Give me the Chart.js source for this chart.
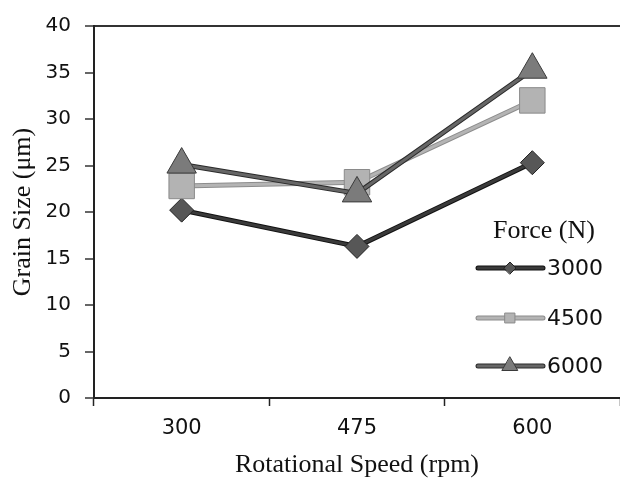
<!DOCTYPE html>
<html><head><meta charset="utf-8">
<script src="https://cdn.jsdelivr.net/npm/chart.js@4.4.1/dist/chart.umd.min.js"></script>
<style>html,body{margin:0;padding:0;background:#fff}#wrap{width:620px;height:485px}</style>
</head><body><div id="wrap"><canvas id="c" width="620" height="485"></canvas></div>
<script>
const categories = ['300', '475', '600'];
const force3000 = [20.2, 16.3, 25.3];
const force4500 = [22.8, 23.2, 32.0];
const force6000 = [25.1, 22.0, 35.3];
const seriesNames = ['3000', '4500', '6000'];
const yTicks = [0, 5, 10, 15, 20, 25, 30, 35, 40];
const legendTitle = 'Force (N)';
const xTitle = 'Rotational Speed (rpm)';
const yTitle = 'Grain Size (\u03bcm)';

const serif = "'Liberation Serif', 'DejaVu Serif', serif";
const sans = "'DejaVu Sans', sans-serif";

const outlinePlugin = {
  id: 'lineOutline',
  beforeDatasetDraw(chart, args) {
    const ds = chart.data.datasets[args.index];
    const pts = args.meta.data;
    if (!ds.outlineColor || !pts.length) return;
    const ctx = chart.ctx;
    ctx.save();
    ctx.strokeStyle = ds.outlineColor;
    ctx.lineWidth = ds.borderWidth + 2;
    ctx.lineJoin = 'round';
    ctx.beginPath();
    pts.forEach((p, i) => i ? ctx.lineTo(p.x, p.y) : ctx.moveTo(p.x, p.y));
    ctx.stroke();
    ctx.restore();
  }
};

const legendPlugin = {
  id: 'insideLegend',
  afterDatasetsDraw(chart) {
    const ctx = chart.ctx;
    ctx.save();
    ctx.fillStyle = '#111';
    ctx.font = '26px ' + serif;
    ctx.textAlign = 'center';
    ctx.textBaseline = 'middle';
    ctx.fillText(legendTitle, 544, 231);
    const ys = [268, 318, 366];
    const msize = [6, 7, 9];
    chart.data.datasets.forEach((ds, i) => {
      const y = ys[i];
      ctx.lineCap = 'round';
      ctx.strokeStyle = ds.outlineColor;
      ctx.lineWidth = ds.borderWidth + 2;
      ctx.beginPath(); ctx.moveTo(478, y); ctx.lineTo(543, y); ctx.stroke();
      ctx.strokeStyle = ds.borderColor;
      ctx.lineWidth = ds.borderWidth;
      ctx.beginPath(); ctx.moveTo(478, y); ctx.lineTo(543, y); ctx.stroke();
      ctx.fillStyle = ds.pointBackgroundColor;
      ctx.strokeStyle = ds.pointBorderColor;
      ctx.lineWidth = 1;
      Chart.helpers.drawPoint(ctx, {pointStyle: ds.pointStyle, radius: msize[i], rotation: 0, borderWidth: 1}, 510, y);
      ctx.fillStyle = '#111';
      ctx.font = '22px ' + sans;
      ctx.textAlign = 'left';
      ctx.fillText(ds.label, 547, y + 1);
    });
    ctx.restore();
  }
};

new Chart(document.getElementById('c'), {
  type: 'line',
  data: {
    labels: categories,
    datasets: [
      {label: seriesNames[0], data: force3000, borderColor: '#3a3a3a', outlineColor: '#111', borderWidth: 3,
       pointStyle: 'rectRot', pointRadius: 12, pointBackgroundColor: '#575757', pointBorderColor: '#222', pointBorderWidth: 1, order: 3},
      {label: seriesNames[1], data: force4500, borderColor: '#b4b4b4', outlineColor: '#8c8c8c', borderWidth: 3,
       pointStyle: 'rect', pointRadius: 18, pointBackgroundColor: '#b3b3b3', pointBorderColor: '#8a8a8a', pointBorderWidth: 1, order: 2},
      {label: seriesNames[2], data: force6000, borderColor: '#666', outlineColor: '#2a2a2a', borderWidth: 3,
       pointStyle: 'triangle', pointRadius: 17, pointBackgroundColor: '#7b7b7b', pointBorderColor: '#3a3a3a', pointBorderWidth: 1, order: 1}
    ]
  },
  options: {
    responsive: false,
    animation: false,
    devicePixelRatio: 1,
    layout: {autoPadding: false, padding: {top: 23, right: 0, left: 0, bottom: 0}},
    plugins: {legend: {display: false}, tooltip: {enabled: false}},
    scales: {
      x: {
        offset: true,
        grid: {offset: true, drawOnChartArea: false, color: '#222', tickLength: 8, tickWidth: 1.5},
        border: {color: '#222', width: 2},
        ticks: {color: '#111', font: {family: sans, size: 21}, padding: 10},
        title: {display: true, text: xTitle, color: '#111', font: {family: serif, size: 26}, padding: {top: 6}},
        afterFit(s) { s.height = 87; s.paddingRight = 0; s.paddingLeft = 0; }
      },
      y: {
        min: 0, max: 40,
        afterBuildTicks(s) { s.ticks = yTicks.map(v => ({value: v})); },
        grid: {color: c => (c.tick && c.tick.value === 40 ? '#333' : 'rgba(0,0,0,0)'), lineWidth: 2,
               tickColor: '#333', tickLength: 9, tickWidth: 1.5},
        border: {color: '#222', width: 2},
        ticks: {color: '#111', font: {family: sans, size: 20}, padding: 14},
        title: {display: true, text: yTitle, color: '#111', font: {family: serif, size: 26}, padding: {top: 8, bottom: 0}},
        afterFit(s) { s.width = 94; }
      }
    }
  },
  plugins: [outlinePlugin, legendPlugin]
});
</script>
</body></html>
